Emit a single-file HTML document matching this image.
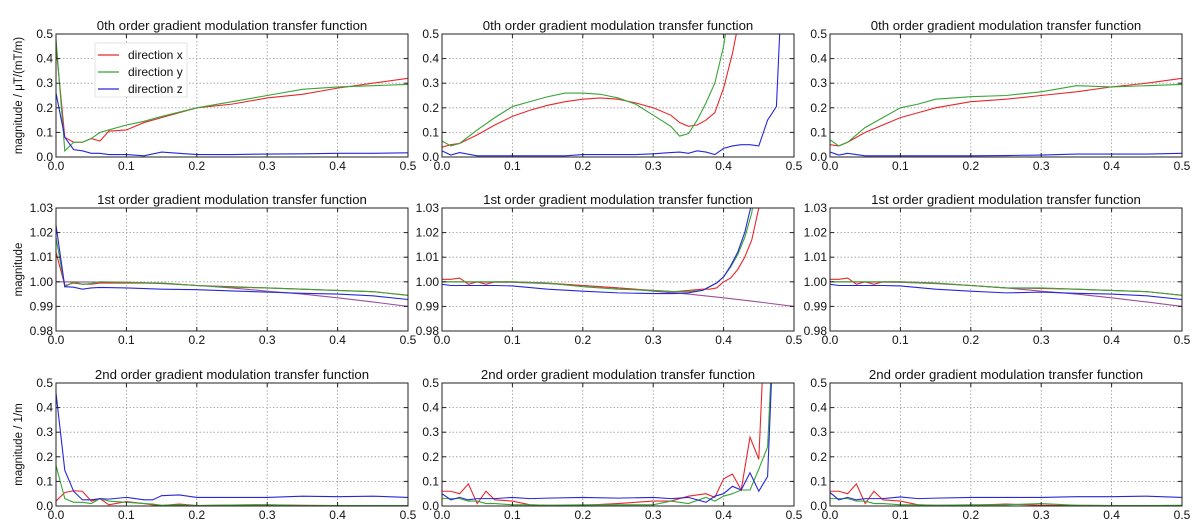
<!DOCTYPE html>
<html><head><meta charset="utf-8">
<style>
html,body{margin:0;padding:0;background:#fff;}
svg{display:block;font-family:"Liberation Sans","DejaVu Sans",sans-serif;}
</style></head>
<body>
<svg id="fig" width="1193" height="522" viewBox="0 0 1193 522"></svg>
<script>
// ---- data ----
const xsP00=[0,0.0125,0.025,0.0375,0.05,0.0625,0.075,0.1,0.125,0.15,0.2,0.25,0.3,0.35,0.4,0.45,0.5];
const p00x=[0.45,0.08,0.06,0.06,0.075,0.065,0.105,0.11,0.14,0.16,0.20,0.215,0.24,0.255,0.28,0.30,0.32];
const p00y=[0.48,0.025,0.06,0.06,0.075,0.1,0.11,0.13,0.145,0.165,0.20,0.225,0.25,0.275,0.285,0.29,0.295];
const p00z=[0.26,0.08,0.03,0.025,0.015,0.015,0.01,0.01,0.005,0.02,0.01,0.01,0.012,0.013,0.015,0.015,0.017];

const xsP01=[0,0.0125,0.025,0.05,0.075,0.1,0.125,0.15,0.175,0.2,0.225,0.25,0.275,0.3,0.325,0.3375,0.35,0.3625,0.375,0.3875,0.4,0.4125,0.425,0.4375,0.45,0.4625,0.475,0.4875,0.5];
const p01x=[0.04,0.05,0.055,0.09,0.13,0.165,0.19,0.21,0.225,0.235,0.24,0.235,0.22,0.2,0.17,0.14,0.125,0.13,0.15,0.18,0.28,0.42,0.6,1,1,1,1,1,1];
const p01y=[0.065,0.045,0.055,0.11,0.16,0.205,0.225,0.245,0.26,0.26,0.255,0.24,0.215,0.17,0.125,0.085,0.095,0.15,0.22,0.3,0.45,0.7,1,1,1,1,1,1,1];
const p01z=[0.025,0.008,0.018,0.005,0.005,0.005,0.005,0.005,0.005,0.01,0.01,0.01,0.01,0.013,0.018,0.02,0.015,0.025,0.02,0.01,0.035,0.045,0.05,0.05,0.045,0.15,0.205,1,1];

const xsP02=[0,0.0125,0.025,0.05,0.075,0.1,0.125,0.15,0.2,0.25,0.3,0.35,0.4,0.45,0.5];
const p02x=[0.05,0.045,0.06,0.1,0.13,0.16,0.18,0.2,0.225,0.235,0.25,0.265,0.285,0.3,0.32];
const p02y=[0.07,0.045,0.06,0.12,0.16,0.2,0.215,0.235,0.245,0.25,0.265,0.29,0.285,0.29,0.295];
const p02z=[0.02,0.008,0.015,0.005,0.005,0.005,0.005,0.005,0.005,0.006,0.008,0.012,0.012,0.012,0.015];

const xsP10=[0,0.0125,0.025,0.0375,0.05,0.0625,0.1,0.15,0.2,0.25,0.3,0.35,0.4,0.45,0.5];
const p10x=[1.012,0.9985,0.9995,0.999,0.999,0.9995,0.9995,0.9995,0.9985,0.998,0.9975,0.997,0.9965,0.996,0.9945];
const p10y=[1.018,0.998,1.0,0.999,0.9993,1.0,0.9998,0.9995,0.9985,0.9978,0.9975,0.997,0.9965,0.996,0.9945];
const p10z=[1.023,0.998,0.9978,0.997,0.9975,0.9977,0.9975,0.997,0.9968,0.9963,0.9958,0.9953,0.995,0.9943,0.9928];

const xsP11=[0,0.0125,0.025,0.0375,0.05,0.0625,0.075,0.1,0.15,0.2,0.25,0.3,0.33,0.35,0.37,0.38,0.39,0.4,0.41,0.42,0.43,0.44,0.45,0.46];
const p11x=[1.001,1.001,1.0015,0.999,1.0,0.999,1.0,1.0,0.9995,0.9985,0.9975,0.9965,0.996,0.9965,0.997,0.997,0.9975,1.0,1.0015,1.005,1.01,1.017,1.03,1.05];
const p11y=[1.0,1.0,1.0,1.0,1.0,1.0,1.0,1.0,0.9995,0.998,0.997,0.9965,0.996,0.996,0.9965,0.998,0.9995,1.002,1.006,1.011,1.018,1.028,1.05,1.08];
const p11z=[0.999,0.9985,0.9985,0.9985,0.9985,0.9985,0.9985,0.9983,0.997,0.9962,0.9955,0.9952,0.9952,0.9955,0.9965,0.998,0.9995,1.002,1.0065,1.012,1.02,1.032,1.06,1.1];

const xsP12=[0,0.0125,0.025,0.0375,0.05,0.0625,0.075,0.1,0.15,0.2,0.25,0.3,0.35,0.4,0.45,0.5];
const p12x=[1.001,1.001,1.0015,0.999,1.0,0.999,1.0,1.0,0.9995,0.9985,0.9975,0.9973,0.997,0.9965,0.996,0.9945];
const p12y=[1.0,1.0,1.0,1.0,1.0,1.0,1.0,1.0,0.9995,0.9985,0.9975,0.9975,0.997,0.9965,0.996,0.9945];
const p12z=[0.999,0.9985,0.9985,0.9985,0.9985,0.9985,0.9985,0.9983,0.997,0.9962,0.9955,0.9958,0.9953,0.995,0.9943,0.9928];

const refX=[0,0.1,0.15,0.2,0.25,0.3,0.35,0.4,0.45,0.5];
const refY=[1.0,0.9998,0.9993,0.9985,0.9975,0.9962,0.995,0.9935,0.9918,0.99];

const xsP20=[0,0.0125,0.025,0.0375,0.05,0.0625,0.075,0.1,0.125,0.1375,0.15,0.175,0.2,0.25,0.3,0.35,0.4,0.45,0.5];
const p20x=[0.02,0.055,0.062,0.06,0.02,0.03,0.005,0.018,0.01,0.005,0.002,0.008,0.002,0.004,0.005,0.003,0.002,0.002,0.002];
const p20y=[0.165,0.03,0.015,0.015,0.01,0.03,0.02,0.015,0.01,0.008,0.003,0.005,0.002,0.004,0.005,0.002,0.002,0.002,0.002];
const p20z=[0.46,0.145,0.06,0.025,0.025,0.03,0.028,0.035,0.025,0.025,0.042,0.045,0.035,0.035,0.035,0.04,0.038,0.04,0.035];

const xsP21=[0,0.0125,0.025,0.0375,0.05,0.0625,0.075,0.1,0.125,0.15,0.2,0.25,0.3,0.325,0.35,0.375,0.3875,0.4,0.4125,0.425,0.4375,0.45,0.4625,0.475];
const p21x=[0.06,0.06,0.05,0.09,0.01,0.06,0.025,0.02,0.005,0.003,0.003,0.01,0.02,0.02,0.04,0.05,0.035,0.11,0.13,0.065,0.28,0.19,1,1];
const p21y=[0.03,0.03,0.03,0.02,0.02,0.01,0.01,0.005,0.005,0.003,0.005,0.005,0.005,0.02,0.01,0.035,0.02,0.04,0.05,0.065,0.065,0.15,0.24,1];
const p21z=[0.05,0.025,0.035,0.025,0.03,0.03,0.03,0.035,0.03,0.032,0.035,0.032,0.035,0.03,0.035,0.015,0.04,0.05,0.08,0.065,0.135,0.06,0.12,1];

const xsP22=[0,0.0125,0.025,0.0375,0.05,0.0625,0.075,0.1,0.125,0.15,0.2,0.25,0.3,0.35,0.4,0.45,0.5];
const p22x=[0.06,0.06,0.05,0.09,0.01,0.06,0.025,0.02,0.005,0.003,0.003,0.008,0.003,0.003,0.002,0.002,0.002];
const p22y=[0.03,0.03,0.03,0.02,0.02,0.01,0.01,0.005,0.005,0.003,0.005,0.005,0.01,0.003,0.002,0.002,0.003];
const p22z=[0.055,0.025,0.035,0.025,0.03,0.03,0.03,0.037,0.03,0.032,0.035,0.035,0.035,0.038,0.038,0.04,0.035];

const xTicks=["0.0","0.1","0.2","0.3","0.4","0.5"];
const yTicksMag=["0.0","0.1","0.2","0.3","0.4","0.5"];
const yTicks1st=["0.98","0.99","1.00","1.01","1.02","1.03"];
const titles=["0th order gradient modulation transfer function","1st order gradient modulation transfer function","2nd order gradient modulation transfer function"];
const yLabels=["magnitude / \u03bcT/(mT/m)","magnitude","magnitude / 1/m"];
const legendLabels=["direction x","direction y","direction z"];

// ---- layout ----
const NS="http://www.w3.org/2000/svg";
const svg=document.getElementById('fig');
const colL=[56,442,830], colW=352;
const rowT=[34,208,383], rowH=123;
const COLORS=["#e8272b","#37a537","#2727d9"];
const PURPLE="#9b4f9b";
function mk(tag,attrs,parent){const e=document.createElementNS(NS,tag);for(const k in attrs)e.setAttribute(k,attrs[k]);(parent||svg).appendChild(e);return e;}

const panels=[
 [[xsP00,[p00x,p00y,p00z]],[xsP01,[p01x,p01y,p01z]],[xsP02,[p02x,p02y,p02z]]],
 [[xsP10,[p10x,p10y,p10z]],[xsP11,[p11x,p11y,p11z]],[xsP12,[p12x,p12y,p12z]]],
 [[xsP20,[p20x,p20y,p20z]],[xsP21,[p21x,p21y,p21z]],[xsP22,[p22x,p22y,p22z]]]
];

for(let r=0;r<3;r++){
 const ymin=r===1?0.98:0, ymax=r===1?1.03:0.5;
 const yt=r===1?yTicks1st:yTicksMag;
 for(let c=0;c<3;c++){
  const L=colL[c],T=rowT[r];
  const sx=v=>L+v/0.5*colW;
  const sy=v=>T+rowH-(v-ymin)/(ymax-ymin)*rowH;
  const g=mk('g',{});
  
  
  const cid='clip'+r+c;
  const cp=mk('clipPath',{id:cid},g);mk('rect',{x:L,y:T,width:colW,height:rowH},cp);
  for(let i=1;i<xTicks.length-1;i++){const X=sx(parseFloat(xTicks[i]));
   const gl=mk('line',{x1:X,x2:X,y1:T,y2:T+rowH,stroke:'#999','stroke-width':0.8,'stroke-dasharray':'1.5,2'},g);
   }
  for(let i=1;i<yt.length-1;i++){const Y=sy(parseFloat(yt[i]));
   const gl=mk('line',{x1:L,x2:L+colW,y1:Y,y2:Y,stroke:'#999','stroke-width':0.8,'stroke-dasharray':'1.5,2'},g);
   }
  const [xs,series]=panels[r][c];
  const lg=mk('g',{'clip-path':'url(#'+cid+')'},g);
  if(r===1){const p=mk('polyline',{points:refX.map((x,i)=>sx(x)+','+sy(refY[i])).join(' '),fill:'none',stroke:PURPLE,'stroke-width':1.1},lg);
   }
  series.forEach((ys,k)=>{
   const p=mk('polyline',{points:xs.map((x,i)=>sx(x)+','+sy(ys[i])).join(' '),fill:'none',stroke:COLORS[k],'stroke-width':1.1},lg);
   
   
  });
  const fr=mk('rect',{x:L,y:T,width:colW,height:rowH,fill:'none',stroke:'#222','stroke-width':1},g);
  
  xTicks.forEach(t=>{const X=sx(parseFloat(t));
   mk('line',{x1:X,x2:X,y1:T+rowH,y2:T+rowH-4,stroke:'#222'},g);mk('line',{x1:X,x2:X,y1:T,y2:T+4,stroke:'#222'},g);
   const tx=mk('text',{x:X,y:T+rowH+13,'font-size':12,'text-anchor':'middle',fill:'#111'},g);tx.textContent=t;
   });
  yt.forEach(t=>{const Y=sy(parseFloat(t));
   mk('line',{x1:L,x2:L+4,y1:Y,y2:Y,stroke:'#222'},g);mk('line',{x1:L+colW,x2:L+colW-4,y1:Y,y2:Y,stroke:'#222'},g);
   const tx=mk('text',{x:L-3,y:Y+4,'font-size':12,'text-anchor':'end',fill:'#111'},g);tx.textContent=t;
   });
  const ti=mk('text',{x:L+colW/2,y:T-4,'font-size':13.2,'text-anchor':'middle',fill:'#111'},g);ti.textContent=titles[r];
  
  if(c===0){const yl=mk('text',{x:0,y:0,'font-size':11.5,'text-anchor':'middle',fill:'#111',transform:'translate(22,'+(T+rowH/2)+') rotate(-90)'},g);
   yl.textContent=yLabels[r];}
 }
}
const lgd=mk('g',{});


mk('rect',{x:95,y:43,width:92,height:54,fill:'#fff',stroke:'#ddd','stroke-width':0.8},lgd);
legendLabels.forEach((t,k)=>{const Y=55+k*17;
 const e=mk('g',{},lgd);
 
 
 mk('line',{x1:98,x2:119,y1:Y,y2:Y,stroke:COLORS[k],'stroke-width':1.2},e);
 const tx=mk('text',{x:128,y:Y+4,'font-size':12,fill:'#111'},e);tx.textContent=t;});
</script>
</body></html>
